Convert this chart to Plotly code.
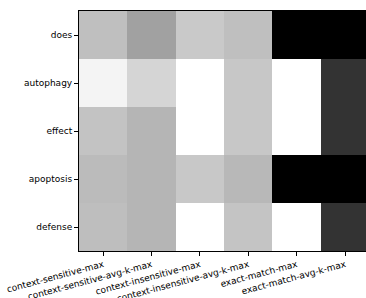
import plotly.graph_objects as go

rows = ["does", "autophagy", "effect", "apoptosis", "defense"]
cols = ["context-sensitive-max", "context-sensitive-avg-k-max", "context-insensitive-max",
        "context-insensitive-avg-k-max", "exact-match-max", "exact-match-avg-k-max"]

# grayscale brightness (0 = black, 1 = white)
does = [0.75, 0.63, 0.79, 0.75, 0.0, 0.0]
autophagy = [0.955, 0.835, 1.0, 0.78, 1.0, 0.2]
effect = [0.765, 0.71, 1.0, 0.78, 1.0, 0.2]
apoptosis = [0.735, 0.71, 0.785, 0.72, 0.0, 0.0]
defense = [0.745, 0.71, 1.0, 0.77, 1.0, 0.2]

z = [does, autophagy, effect, apoptosis, defense]

fig = go.Figure(go.Heatmap(
    z=z, x=list(range(len(cols))), y=list(range(len(rows))),
    colorscale=[[0, "black"], [1, "white"]], zmin=0, zmax=1,
    showscale=False, xgap=0, ygap=0, hoverinfo="skip"))

fig.update_layout(
    width=366, height=298,
    margin=dict(l=79, r=0, t=11, b=47),
    paper_bgcolor="white", plot_bgcolor="white",
    font=dict(family="DejaVu Sans", size=9, color="black"),
    showlegend=False,
)
fig.update_xaxes(
    tickmode="array", tickvals=list(range(len(cols))), ticktext=cols,
    tickangle=-15, range=[-0.5, 5.43], ticks="outside", ticklen=4, tickwidth=1,
    tickcolor="black", showline=True, linecolor="black", linewidth=1, mirror=True,
    showgrid=False, zeroline=False, automargin=False,
)
fig.update_yaxes(
    tickmode="array", tickvals=list(range(len(rows))), ticktext=rows,
    range=[4.5, -0.5], ticks="outside", ticklen=4, tickwidth=1,
    tickcolor="black", showline=True, linecolor="black", linewidth=1, mirror=True,
    showgrid=False, zeroline=False, automargin=False,
)

fig.write_html("out.html", config={"displayModeBar": False},
               post_script="document.body.style.margin='0';document.body.style.overflow='hidden';")
